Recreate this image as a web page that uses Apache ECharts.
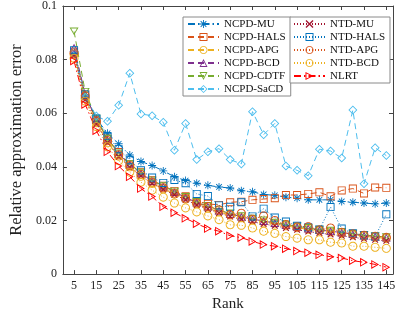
<!DOCTYPE html>
<html><head><meta charset="utf-8">
<script src="https://cdn.jsdelivr.net/npm/echarts@6/dist/echarts.min.js"></script>
<style>html,body{margin:0;padding:0;background:#fff}#c{width:399px;height:317px}</style>
</head><body><div id="c"></div>
<script>
const ranks = [5,10,15,20,25,30,35,40,45,50,55,60,65,70,75,80,85,90,95,100,105,110,115,120,125,130,135,140,145];
const xTicks = [5,15,25,35,45,55,65,75,85,95,105,115,125,135,145];
const yTicks = [0,0.02,0.04,0.06,0.08,0.1];

const ncpdMU   = [0.0820,0.0660,0.0580,0.0525,0.0486,0.0444,0.0420,0.0405,0.0385,0.0363,0.0349,0.0339,0.0331,0.0325,0.0321,0.0311,0.0307,0.0297,0.0294,0.0287,0.0283,0.0277,0.0277,0.0277,0.0271,0.0268,0.0265,0.0262,0.0265];
const ncpdHALS = [0.0830,0.0670,0.0575,0.0505,0.0455,0.0410,0.0380,0.0350,0.0330,0.0310,0.0290,0.0272,0.0262,0.0258,0.0268,0.0270,0.0277,0.0280,0.0283,0.0295,0.0295,0.0299,0.0305,0.0290,0.0312,0.0319,0.0301,0.0323,0.0322];
const ncpdAPG  = [0.0820,0.0655,0.0565,0.0490,0.0440,0.0400,0.0365,0.0338,0.0318,0.0298,0.0280,0.0262,0.0246,0.0232,0.0220,0.0210,0.0202,0.0194,0.0187,0.0180,0.0173,0.0167,0.0161,0.0157,0.0151,0.0146,0.0141,0.0137,0.0133];
const ncpdBCD  = [0.0845,0.0670,0.0575,0.0500,0.0448,0.0408,0.0376,0.0347,0.0326,0.0306,0.0286,0.0267,0.0252,0.0237,0.0224,0.0214,0.0205,0.0198,0.0190,0.0183,0.0176,0.0170,0.0164,0.0160,0.0155,0.0149,0.0144,0.0140,0.0136];
const ncpdCDTF = [0.0905,0.0680,0.0580,0.0505,0.0450,0.0410,0.0378,0.0349,0.0328,0.0308,0.0288,0.0269,0.0254,0.0239,0.0226,0.0216,0.0207,0.0200,0.0192,0.0185,0.0178,0.0172,0.0166,0.0162,0.0157,0.0151,0.0146,0.0142,0.0138];
const ncpdSaCD = [0.0830,0.0660,0.0590,0.0570,0.0630,0.0749,0.0597,0.0591,0.0566,0.0462,0.0562,0.0427,0.0456,0.0468,0.0427,0.0411,0.0606,0.0520,0.0562,0.0403,0.0387,0.0367,0.0466,0.0459,0.0433,0.0612,0.0337,0.0471,0.0442];
const ntdMU    = [0.0815,0.0650,0.0560,0.0490,0.0438,0.0398,0.0366,0.0338,0.0316,0.0296,0.0277,0.0258,0.0243,0.0228,0.0215,0.0204,0.0195,0.0187,0.0180,0.0172,0.0165,0.0159,0.0153,0.0148,0.0143,0.0137,0.0132,0.0128,0.0124];
const ntdHALS  = [0.0835,0.0670,0.0580,0.0515,0.0466,0.0425,0.0387,0.0360,0.0340,0.0351,0.0339,0.0299,0.0291,0.0256,0.0251,0.0268,0.0215,0.0244,0.0211,0.0196,0.0180,0.0175,0.0166,0.0250,0.0170,0.0152,0.0145,0.0140,0.0223];
const ntdAPG   = [0.0825,0.0665,0.0570,0.0498,0.0445,0.0405,0.0372,0.0343,0.0322,0.0302,0.0283,0.0265,0.0252,0.0240,0.0222,0.0227,0.0205,0.0217,0.0200,0.0185,0.0176,0.0177,0.0165,0.0172,0.0156,0.0150,0.0145,0.0141,0.0137];
const ntdBCD   = [0.0805,0.0645,0.0550,0.0475,0.0423,0.0380,0.0343,0.0313,0.0287,0.0265,0.0247,0.0232,0.0217,0.0203,0.0184,0.0182,0.0172,0.0160,0.0152,0.0140,0.0134,0.0128,0.0128,0.0119,0.0116,0.0104,0.0104,0.0100,0.0096];
const nlrt     = [0.0795,0.0633,0.0535,0.0456,0.0403,0.0363,0.0319,0.0289,0.0251,0.0229,0.0208,0.0188,0.0170,0.0160,0.0143,0.0136,0.0122,0.0110,0.0104,0.0095,0.0086,0.0080,0.0072,0.0065,0.0060,0.0050,0.0044,0.0036,0.0026];

const FONT = 'Liberation Serif';
const DASH = [6,4], DOT = [1,2], DASHDOT = [7,3,1.5,3];

// hollow marker outlines (ring paths), drawn in a 10x10 box
function fmt(p) { return p[0].toFixed(2) + ' ' + p[1].toFixed(2); }
function ring(pts, c, s) {
  const inner = pts.map(p => [c[0] + (p[0] - c[0]) * s, c[1] + (p[1] - c[1]) * s]).reverse();
  const sub = a => 'M' + a.map(fmt).join('L') + 'Z';
  return 'path://' + sub(pts) + sub(inner);
}
function bars(angles, hw) {
  let d = '';
  angles.forEach(a => {
    const r = a * Math.PI / 180, dx = Math.cos(r), dy = Math.sin(r), nx = -dy, ny = dx;
    const q = [[5 + 5*dx + hw*nx, 5 + 5*dy + hw*ny], [5 + 5*dx - hw*nx, 5 + 5*dy - hw*ny],
               [5 - 5*dx - hw*nx, 5 - 5*dy - hw*ny], [5 - 5*dx + hw*nx, 5 - 5*dy + hw*ny]];
    d += 'M' + q.map(fmt).join('L') + 'Z';
  });
  return 'path://' + d;
}
const circlePts = Array.from({length: 24}, (_, i) => [5 + 5*Math.cos(i*Math.PI/12), 5 + 5*Math.sin(i*Math.PI/12)]);
const SYM = {
  star: bars([0, 45, 90, 135], 0.55),
  cross: bars([45, 135], 0.7),
  rect: ring([[0,0],[10,0],[10,10],[0,10]], [5,5], 0.78),
  circle: ring(circlePts, [5,5], 0.79),
  diamond: ring([[5,0],[10,5],[5,10],[0,5]], [5,5], 0.72),
  up: ring([[5,0],[10,8.66],[0,8.66]], [5,5.77], 0.64),
  down: ring([[0,0],[10,0],[5,8.66]], [5,2.89], 0.64),
  right: ring([[0,0],[8.66,5],[0,10]], [2.89,5], 0.64)
};
function mk(name, vals, color, dash, symbol, size) {
  return {
    name, type: 'line', data: ranks.map((r, i) => [r, vals[i]]),
    symbol, symbolSize: size, symbolKeepAspect: true,
    lineStyle: { color, width: 1, type: dash },
    itemStyle: { color, borderWidth: 0 },
    emphasis: { disabled: true }
  };
}
const series = [
  mk('NCPD-MU', ncpdMU, '#0072BD', DASHDOT, SYM.star, 8),
  mk('NCPD-HALS', ncpdHALS, '#D95319', DASH, SYM.rect, 8),
  mk('NCPD-APG', ncpdAPG, '#EDB120', DASH, SYM.circle, 9),
  mk('NCPD-BCD', ncpdBCD, '#7E2F8E', DASH, SYM.up, 9),
  mk('NCPD-CDTF', ncpdCDTF, '#77AC30', DASH, SYM.down, 9),
  mk('NCPD-SaCD', ncpdSaCD, '#4DBEEE', DASH, SYM.diamond, 9),
  mk('NTD-MU', ntdMU, '#A2142F', DOT, SYM.cross, 6.5),
  mk('NTD-HALS', ntdHALS, '#0072BD', DOT, SYM.rect, 8),
  mk('NTD-APG', ntdAPG, '#D95319', DOT, SYM.circle, 9),
  mk('NTD-BCD', ntdBCD, '#EDB120', DOT, SYM.circle, 9),
  mk('NLRT', nlrt, '#FF0000', DASHDOT, SYM.right, 9)
];
const axisColor = '#444';
const legendBase = {
  orient: 'vertical', top: 17, itemWidth: 31, itemHeight: 10, itemGap: 2,
  backgroundColor: '#fff', borderColor: '#8a8a8a', borderWidth: 1, borderRadius: 0,
  textStyle: { fontFamily: FONT, fontSize: 11, color: '#111' },
  selectedMode: false
};
const chart = echarts.init(document.getElementById('c'), null, { renderer: 'canvas' });
chart.setOption({
  animation: false,
  backgroundColor: '#fff',
  grid: { left: 46, right: 6, top: 5, bottom: 33, containLabel: false },
  legend: [
    Object.assign({}, legendBase, { left: 183, padding: [1.5, 5, 1.5, 4], data: ['NCPD-MU','NCPD-HALS','NCPD-APG','NCPD-BCD','NCPD-CDTF','NCPD-SaCD'] }),
    Object.assign({}, legendBase, { left: 290, padding: [1.5, 5, 1.5, 3], data: ['NTD-MU','NTD-HALS','NTD-APG','NTD-BCD','NLRT'] })
  ],
  xAxis: [
    { type: 'value', min: 0, max: 148, position: 'bottom',
      axisLine: { show: true, onZero: false, lineStyle: { color: axisColor, width: 1 } },
      axisTick: { show: true, inside: true, length: 4, customValues: xTicks, lineStyle: { color: axisColor } },
      axisLabel: { customValues: xTicks, fontFamily: FONT, fontSize: 12, color: '#222', margin: 6 },
      splitLine: { show: false },
      name: 'Rank', nameLocation: 'middle', nameGap: 20,
      nameTextStyle: { fontFamily: FONT, fontSize: 15, color: '#222' } },
    { type: 'value', min: 0, max: 148, position: 'top',
      axisLine: { show: true, onZero: false, lineStyle: { color: axisColor, width: 1 } },
      axisTick: { show: true, inside: true, length: 4, customValues: xTicks, lineStyle: { color: axisColor } },
      axisLabel: { show: false }, splitLine: { show: false } }
  ],
  yAxis: [
    { type: 'value', min: 0, max: 0.1, interval: 0.02, position: 'left',
      axisLine: { show: true, onZero: false, lineStyle: { color: axisColor, width: 1 } },
      axisTick: { show: true, inside: true, length: 4, customValues: yTicks, lineStyle: { color: axisColor } },
      axisLabel: { customValues: yTicks, fontFamily: FONT, fontSize: 12, color: '#222', margin: 6,
        formatter: v => String(+v.toFixed(2)) },
      splitLine: { show: false },
      name: 'Relative approximation error', nameLocation: 'middle', nameGap: 31,
      nameTextStyle: { fontFamily: FONT, fontSize: 16.5, color: '#222' } },
    { type: 'value', min: 0, max: 0.1, interval: 0.02, position: 'right',
      axisLine: { show: true, onZero: false, lineStyle: { color: axisColor, width: 1 } },
      axisTick: { show: true, inside: true, length: 4, customValues: yTicks, lineStyle: { color: axisColor } },
      axisLabel: { show: false }, splitLine: { show: false } }
  ],
  series
});
</script></body></html>
